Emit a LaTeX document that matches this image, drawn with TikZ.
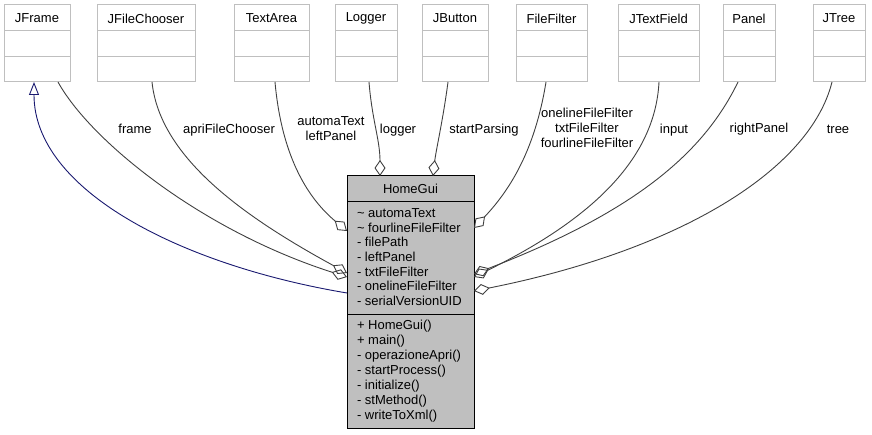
\documentclass[tikz,border=0pt]{standalone}
\usepackage{fontspec}
\setmainfont{Liberation Sans}
\usetikzlibrary{arrows.meta,calc}
\definecolor{boxgray}{HTML}{BFBFBF}
\definecolor{linegray}{HTML}{404040}
\definecolor{navyline}{HTML}{191970}
\definecolor{fillgray}{HTML}{BFBFBF}
\begin{document}
\begin{tikzpicture}[x=1pt,y=-1pt,
  every node/.style={font=\fontsize{13}{15}\selectfont, inner sep=0pt, outer sep=0pt},
  topbox/.style={draw=boxgray, line width=1pt, fill=white, anchor=north west, minimum height=77pt},
  aggr/.style={draw=linegray, line width=0.9pt, {Diamond[open,length=16pt,width=11pt]}-},
  inherit/.style={draw=navyline, line width=0.9pt, -{Triangle[open,length=13pt,width=10pt]}},
  lbl/.style={align=center, text=black},
  member/.style={anchor=base west},
]
\useasboundingbox (0,0) rectangle (872,435);
% top classes
\foreach \n/\a/\b/\t in {jframe/4/70/JFrame, jfilechooser/97/195/JFileChooser, textarea/234/309/TextArea, logger/335/397/Logger, jbutton/422/488/JButton, filefilter/516/587/FileFilter, jtextfield/618/699/JTextField, panel/723/775/Panel, jtree/813/865/JTree}{
  \pgfmathsetmacro\w{\b-\a}
  \node[topbox, minimum width=\w pt] (\n) at (\a,5) {};
  \draw[boxgray, line width=1pt] ($(\n.north west)+(0,26)$) -- ($(\n.north east)+(0,26)$);
  \draw[boxgray, line width=1pt] ($(\n.north west)+(0,52)$) -- ($(\n.north east)+(0,52)$);
  \node (\n-title) at ($(\n.north)+(0,13.5)$) {\t};
}
% HomeGui class
\node[draw=black, fill=fillgray, line width=1pt, anchor=north west, minimum width=127pt, minimum height=252pt] (hg) at (347,176) {};
\draw[black, line width=1pt] ($(hg.north west)+(0,26)$) -- ($(hg.north east)+(0,26)$);
\draw[black, line width=1pt] ($(hg.north west)+(0,139)$) -- ($(hg.north east)+(0,139)$);
\node (hg-title) at ($(hg.north)+(0,13)$) {HomeGui};
\node[member] (a1) at (357,217.5) {\textasciitilde{} automaText};
\node[member] (a2) at (357,232.5) {\textasciitilde{} fourlineFileFilter};
\node[member] (a3) at (357,247) {- filePath};
\node[member] (a4) at (357,261.5) {- leftPanel};
\node[member] (a5) at (357,276.5) {- txtFileFilter};
\node[member] (a6) at (357,291) {- onelineFileFilter};
\node[member] (a7) at (357,305.5) {- serialVersionUID};
\node[member] (m1) at (357,329.5) {+ HomeGui()};
\node[member] (m2) at (357,344.5) {+ main()};
\node[member] (m3) at (357,359.5) {- operazioneApri()};
\node[member] (m4) at (357,374.5) {- startProcess()};
\node[member] (m5) at (357,389.5) {- initialize()};
\node[member] (m6) at (357,404.5) {- stMethod()};
\node[member] (m7) at (357,419.5) {- writeToXml()};
% connectors
\draw[inherit] ($(hg.north west)+(0,117)$) .. controls (180,265) and (34,190) .. ($(jframe.south west)+(30,0)$);
\draw[aggr] ($(hg.north west)+(0,101)$) .. controls (200,230) and (90,140) .. ($(jframe.south west)+(54,0)$);
\draw[aggr] ($(hg.north west)+(0,97)$) .. controls (250,220) and (160,160) .. ($(jfilechooser.south west)+(55,0)$);
\draw[aggr] ($(hg.north west)+(0,55)$) .. controls (310,200) and (282,160) .. ($(textarea.south west)+(41,0)$);
\draw[aggr] ($(hg.north west)+(33,0)$) .. controls (380,140) and (372,120) .. ($(logger.south west)+(34,0)$);
\draw[aggr] ($(hg.north west)+(86,0)$) .. controls (436,150) and (443,120) .. ($(jbutton.south west)+(26,0)$);
\draw[aggr] ($(hg.north east)+(0,52)$) .. controls (510,190) and (535,150) .. ($(filefilter.south west)+(30,0)$);
\draw[aggr] ($(hg.north east)+(0,101)$) .. controls (590,220) and (655,160) .. ($(jtextfield.south west)+(41,0)$);
\draw[aggr] ($(hg.north east)+(0,98)$) .. controls (640,210) and (705,150) .. ($(panel.south west)+(15,0)$);
\draw[aggr] ($(hg.north east)+(0,115)$) .. controls (680,250) and (810,170) .. ($(jtree.south west)+(19,0)$);
% labels
\node[lbl] (lframe) at (135,129) {frame};
\node[lbl] (lapri) at (229,130) {apriFileChooser};
\node[lbl] (lautoma) at (331,128.5) {automaText\\leftPanel};
\node[lbl] (llogger) at (398,130) {logger};
\node[lbl] (lstart) at (484,130) {startParsing};
\node[lbl] (lfilter) at (587,128) {onelineFileFilter\\txtFileFilter\\fourlineFileFilter};
\node[lbl] (linput) at (674,130) {input};
\node[lbl] (lright) at (759,129) {rightPanel};
\node[lbl] (ltree) at (838,129) {tree};
\end{tikzpicture}
\end{document}
